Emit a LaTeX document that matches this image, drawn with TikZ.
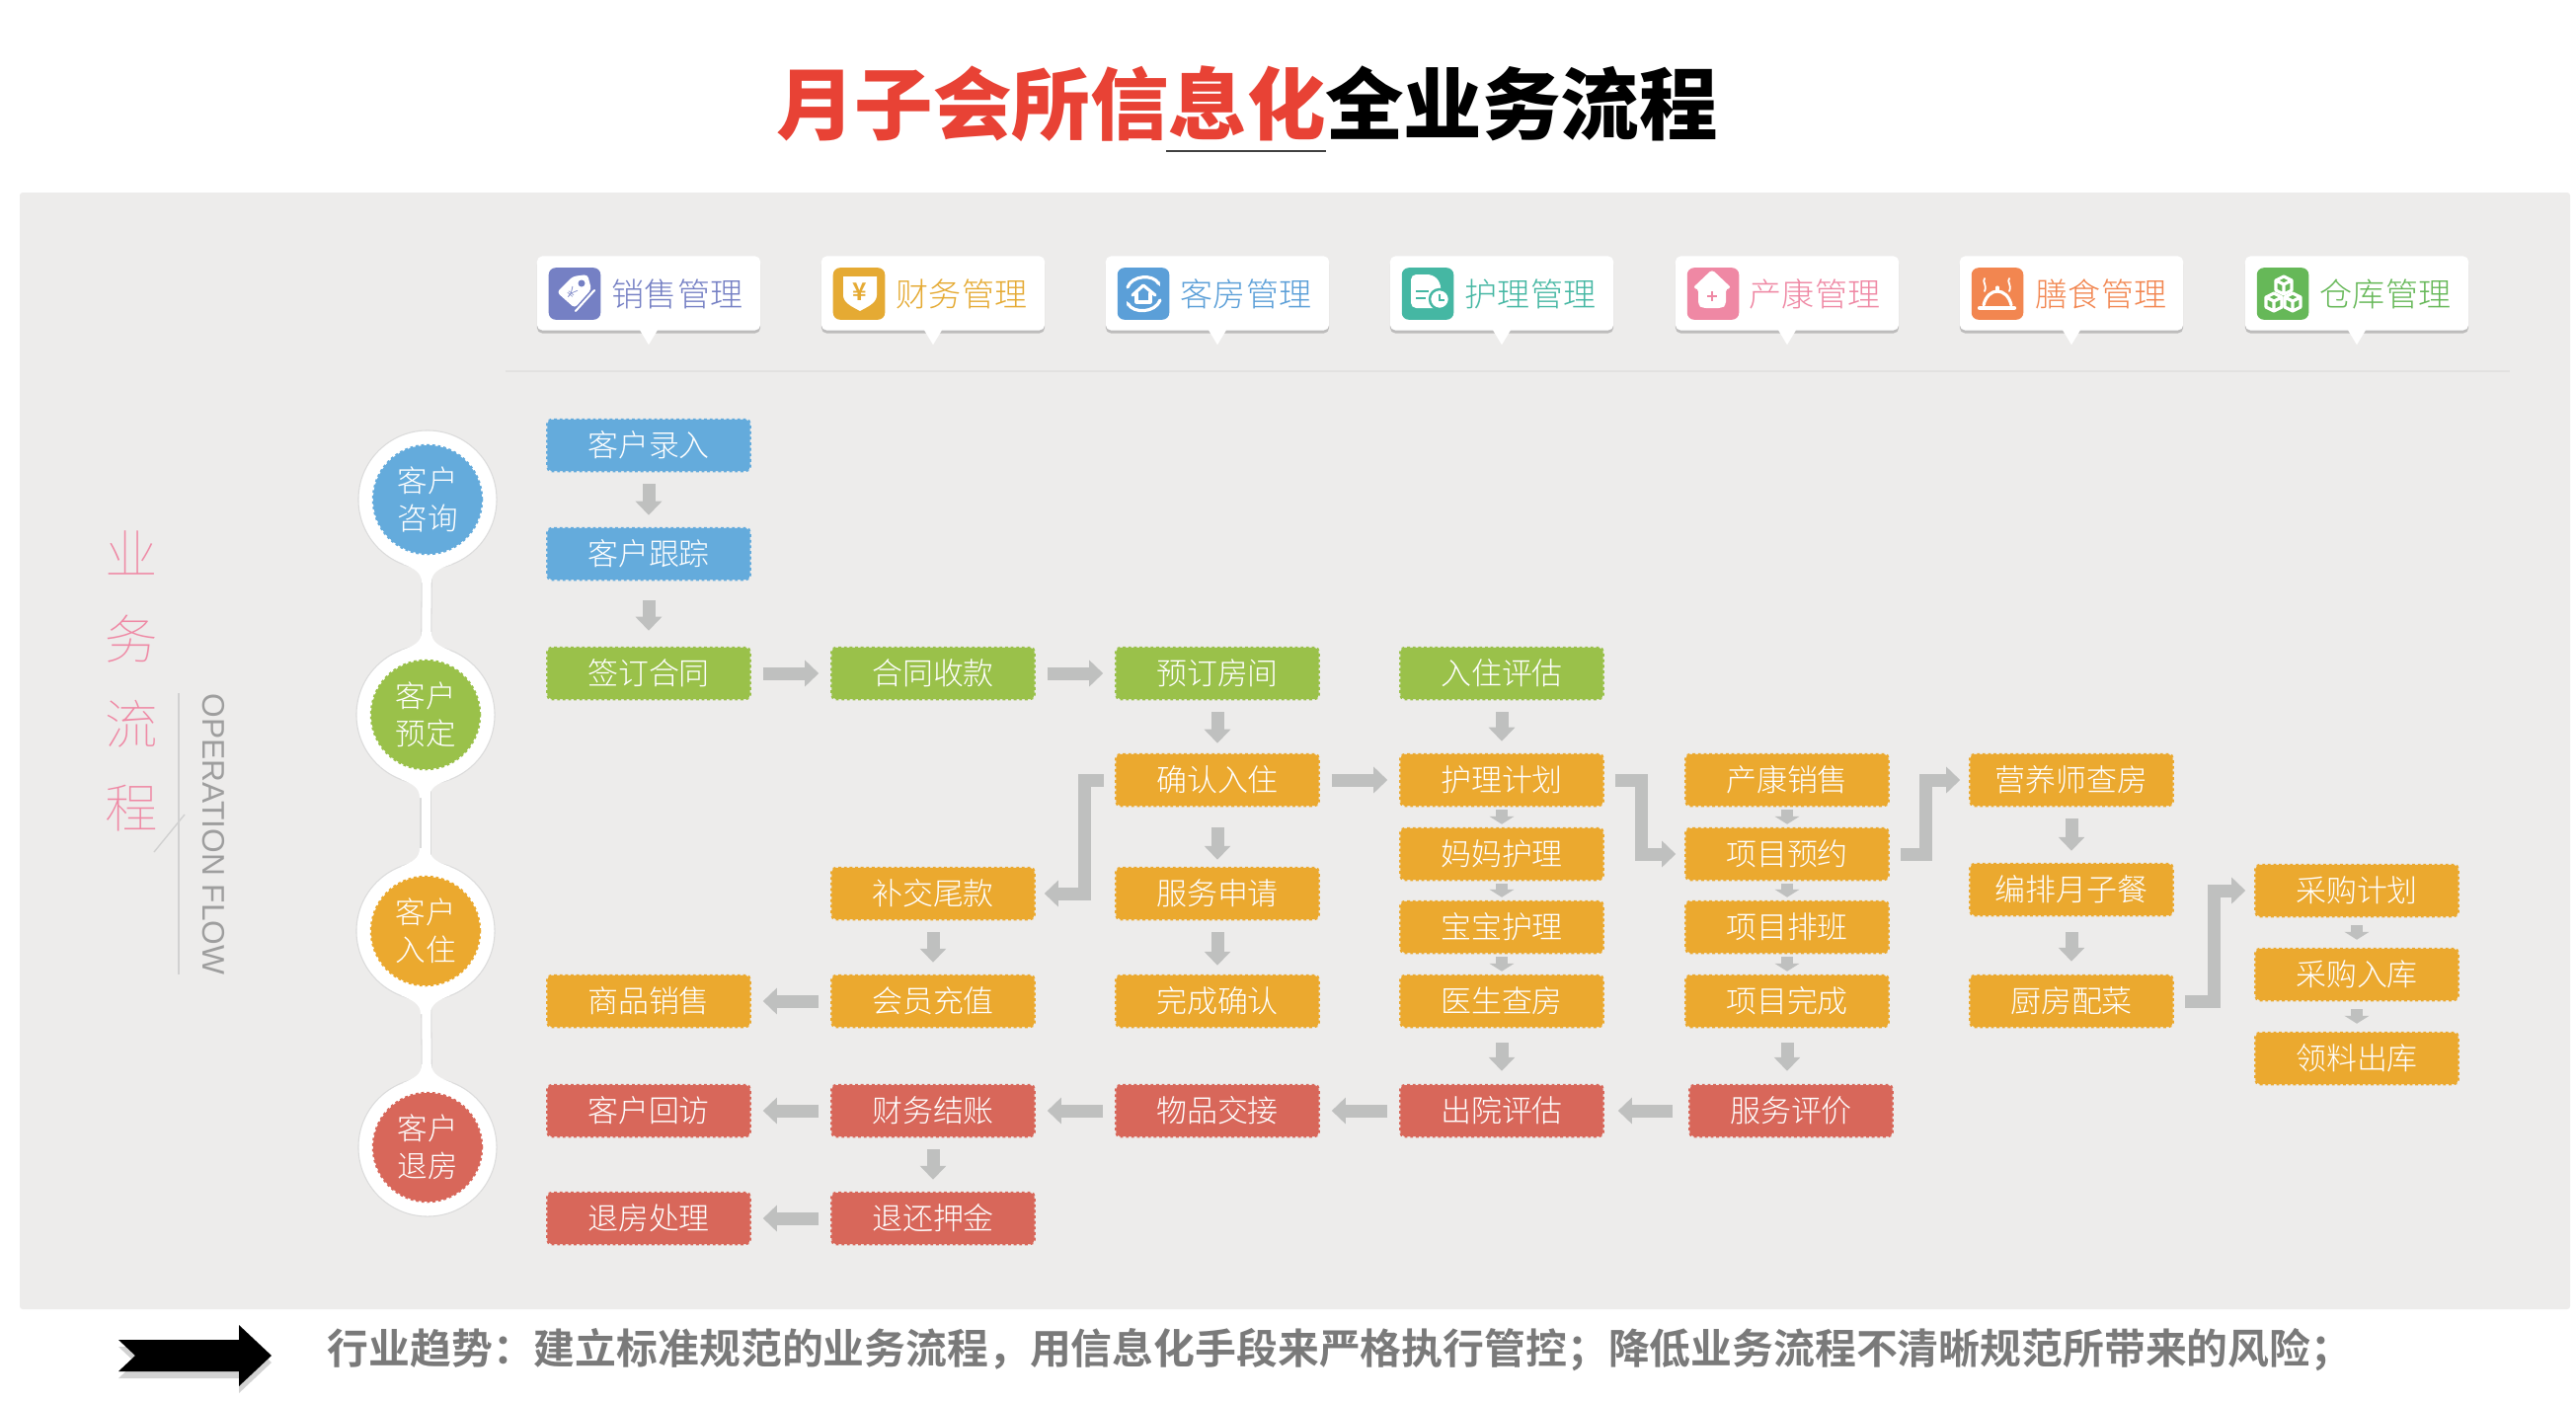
\documentclass[tikz,border=0pt]{standalone}
\usepackage{fontspec}
\usetikzlibrary{arrows.meta,shadows}
\setmainfont{Noto Sans CJK SC Light}
\newfontfamily\titlefont{Noto Sans CJK SC Black}
\newfontfamily\trendfont{Noto Sans CJK SC Bold}
\newfontfamily\thinfont{Noto Sans CJK SC Thin}
\newfontfamily\opfont{Liberation Sans}
\definecolor{panelgray}{HTML}{EDECEB}
\definecolor{rulegray}{HTML}{E2E1E0}
\definecolor{arrowgray}{HTML}{BFC0BF}
\definecolor{flowblue}{HTML}{64ABDC}
\definecolor{flowgreen}{HTML}{9AC14A}
\definecolor{floworange}{HTML}{EBA92F}
\definecolor{flowred}{HTML}{D8675A}
\definecolor{titlered}{HTML}{E84235}
\definecolor{headpurple}{HTML}{7580C4}
\definecolor{headgold}{HTML}{E5AA33}
\definecolor{headblue}{HTML}{5B9FD8}
\definecolor{headteal}{HTML}{45B7A3}
\definecolor{headpink}{HTML}{EF88A4}
\definecolor{headcoral}{HTML}{F28650}
\definecolor{headleaf}{HTML}{66B858}

\begin{document}
\begin{tikzpicture}[x=.01cm, y=-.01cm,
  flowbox/.style={draw=#1, fill=#1, text=white, line width=.7pt, dash pattern=on .8pt off .8pt, rounded corners=1.2pt,
    minimum width=2.05cm, minimum height=.52cm, inner sep=0, font=\fontsize{8.8}{10}\selectfont},
  ring/.style={circle, fill=white, draw=black!14, line width=.3pt, minimum size=1.4cm, inner sep=0},
  stage/.style={circle, draw=#1, fill=#1, text=white, line width=.7pt, dash pattern=on .8pt off .8pt, minimum size=1.1cm,
    inner sep=0, align=center, font=\fontsize{8.7}{10.8}\selectfont},
  neck/.style={draw=black!14, double=white, double distance=.09cm, line width=.3pt},
  headbox/.style={fill=white, rounded corners=1.5pt, minimum width=2.26cm, minimum height=.75cm, inner sep=0,
    drop shadow={shadow xshift=0pt, shadow yshift=-.03cm, opacity=.2, fill=black}},
  headicon/.style={fill=#1, rounded corners=2pt, minimum size=.525cm, inner sep=0},
  headtext/.style={text=#1, inner sep=0, font=\fontsize{9.4}{11}\selectfont},
  bigarrow/.style={draw=arrowgray, line width=.13cm, shorten <=.12cm, shorten >=.12cm, -{Triangle[length=.14cm,width=.26cm]}},
  smallarrow/.style={draw=arrowgray, line width=.12cm, shorten <=.03cm, shorten >=.03cm, -{Triangle[length=.08cm,width=.25cm]}},
  elbow/.style={draw=arrowgray, line width=.13cm, line join=miter, shorten <=.11cm, shorten >=.09cm, -{Triangle[length=.14cm,width=.26cm]}},
  iconline/.style={draw=white, line width=.9pt, line cap=round, line join=round}]

\useasboundingbox (0,0) rectangle (2609,1418);
\fill[white] (0,0) rectangle (2609,1418);
\fill[panelgray, rounded corners=.03cm] (20,195) rectangle (2603,1326);
\draw[rulegray, line width=.6pt] (512,376) -- (2542,376);

% title
\node[inner sep=0, font=\titlefont\fontsize{22.6}{26}\selectfont] (title) at (1263,105) {\textcolor{titlered}{月子会所信息化}全业务流程};
\draw[black!75, line width=.6pt] (1181,153) -- (1343,153);

% left caption
\node[text=headpink, inner sep=0, align=center, font=\thinfont\fontsize{15.2}{24.4}\selectfont] (caption) at (133,690) {业\\务\\流\\程};
\draw[black!18, line width=.4pt] (181,702) -- (181,987);
\draw[black!18, line width=.4pt] (187,825) -- (156,863);
\node[rotate=-90, text=black!38, inner sep=0, font=\opfont\fontsize{9}{10}\selectfont] (opflow) at (216,845) {OPERATION FLOW};

% header tabs
\node[headbox] (hsale) at (657,297) {};
\node[headbox] (hcash) at (945,297) {};
\node[headbox] (hroom) at (1233,297) {};
\node[headbox] (hcare) at (1521,297) {};
\node[headbox] (hheal) at (1810,297) {};
\node[headbox] (hfood) at (2098,297) {};
\node[headbox] (hstore) at (2387,297) {};
\fill[white] (hsale.south) ++(-9,-1) -- ++(9,15) -- ++(9,-15) -- cycle;
\fill[white] (hcash.south) ++(-9,-1) -- ++(9,15) -- ++(9,-15) -- cycle;
\fill[white] (hroom.south) ++(-9,-1) -- ++(9,15) -- ++(9,-15) -- cycle;
\fill[white] (hcare.south) ++(-9,-1) -- ++(9,15) -- ++(9,-15) -- cycle;
\fill[white] (hheal.south) ++(-9,-1) -- ++(9,15) -- ++(9,-15) -- cycle;
\fill[white] (hfood.south) ++(-9,-1) -- ++(9,15) -- ++(9,-15) -- cycle;
\fill[white] (hstore.south) ++(-9,-1) -- ++(9,15) -- ++(9,-15) -- cycle;
\node[headicon=headpurple] (isale) at (582,297.5) {};
\node[headicon=headgold] (icash) at (870,297.5) {};
\node[headicon=headblue] (iroom) at (1158,297.5) {};
\node[headicon=headteal] (icare) at (1446,297.5) {};
\node[headicon=headpink] (iheal) at (1735,297.5) {};
\node[headicon=headcoral] (ifood) at (2023,297.5) {};
\node[headicon=headleaf] (istore) at (2312,297.5) {};
\node[headtext=headpurple] at (686,298) {销售管理};
\node[headtext=headgold] at (974,298) {财务管理};
\node[headtext=headblue] at (1262,298) {客房管理};
\node[headtext=headteal] at (1550,298) {护理管理};
\node[headtext=headpink] at (1838,298) {产康管理};
\node[headtext=headcoral] at (2128,298) {膳食管理};
\node[headtext=headleaf] at (2416,298) {仓库管理};

% icon drawings
\begin{scope}[shift={(556,271)}]
  \draw[iconline, line width=.6pt] (27,44) -- (46,23);
  \fill[white, rounded corners=1pt] (8,25) -- (24,9) -- (39,7) -- (43,22) -- (26,41) -- cycle;
  \fill[headpurple] (33,16) circle (.035cm);
  \node[rotate=-40, text=headpurple, inner sep=0, font=\fontsize{4.5}{5}\selectfont] at (23,26) {¥};
\end{scope}
\begin{scope}[shift={(844,271)}]
  \fill[white] (10,9) -- (44,9) -- (44,28) .. controls (44,36) and (34,40) .. (27,44) .. controls (20,40) and (10,36) .. (10,28) -- cycle;
  \node[text=headgold, inner sep=0, font=\trendfont\fontsize{7}{8}\selectfont] at (27,25) {¥};
\end{scope}
\begin{scope}[shift={(1132,271)}]
  \draw[iconline, -{Stealth[length=.05cm]}] (10,20) .. controls (14,8) and (36,6) .. (43,19);
  \draw[iconline, -{Stealth[length=.05cm]}] (43,33) .. controls (38,46) and (16,47) .. (9,34);
  \draw[iconline] (15,28) -- (26,18) -- (38,28);
  \draw[iconline] (19,26) -- (19,35) -- (33,35) -- (33,26);
\end{scope}
\begin{scope}[shift={(1420,271)}]
  \fill[white, rounded corners=1.5pt] (9,7) -- (31,7) -- (39,15) -- (39,41) -- (9,41) -- cycle;
  \draw[headteal, line width=.8pt] (14,24) -- (27,24);
  \draw[headteal, line width=.8pt] (14,31) -- (24,31);
  \draw[headteal, fill=white, line width=.7pt] (38,32) circle (.1cm);
  \draw[headteal, line width=.6pt] (38,27) -- (38,33) -- (43,33);
\end{scope}
\begin{scope}[shift={(1709,271)}]
  \fill[white, rounded corners=1pt] (5,21) -- (25,2) -- (45,21) -- (39,21) -- (39,38) -- (35,41) -- (15,41) -- (11,38) -- (11,21) -- cycle;
  \draw[headpink, line width=.5pt] (20,29) -- (30,29);
  \draw[headpink, line width=.5pt] (25,24) -- (25,34);
\end{scope}
\begin{scope}[shift={(1997,271)}]
  \draw[iconline, line width=1.2pt] (8,41) -- (43,41);
  \draw[iconline] (12,38) .. controls (14,29) and (20,24) .. (26,24) .. controls (32,24) and (38,29) .. (40,38);
  \draw[iconline] (26,24) -- (26,20);
  \draw[iconline, line width=.5pt] (13,11) .. controls (10,15) and (16,17) .. (13,24);
  \draw[iconline, line width=.5pt] (38,11) .. controls (35,15) and (41,17) .. (38,24);
\end{scope}
\begin{scope}[shift={(2286,271), iconline/.append style={line width=.55pt}}]
  \draw[iconline] (27,9) -- (35,13) -- (35,23) -- (27,27) -- (19,23) -- (19,13) -- cycle (19,13) -- (27,17) -- (35,13) (27,17) -- (27,27);
  \draw[iconline] (17,26) -- (25,30) -- (25,40) -- (17,44) -- (9,40) -- (9,30) -- cycle (9,30) -- (17,34) -- (25,30) (17,34) -- (17,44);
  \draw[iconline] (36,26) -- (44,30) -- (44,40) -- (36,44) -- (28,40) -- (28,30) -- cycle (28,30) -- (36,34) -- (44,30) (36,34) -- (36,44);
\end{scope}

% stages on the left
\node[ring] (zixun) at (433,506) {};
\node[ring] (yuding) at (431,724) {};
\node[ring] (ruzhu) at (431,943) {};
\node[ring] (tuifang) at (433,1162) {};
\draw[neck] (zixun) -- (yuding);
\draw[neck] (yuding) -- (ruzhu);
\draw[neck] (ruzhu) -- (tuifang);
\fill[white] (408,571) .. controls (420,576) and (427,580) .. (427,590) -- (437,590) .. controls (437,580) and (444,576) .. (458,571) -- cycle;
\fill[white] (406,659) .. controls (420,654) and (427,650) .. (427,640) -- (437,640) .. controls (437,650) and (444,654) .. (456,659) -- cycle;
\fill[white] (406,789) .. controls (418,794) and (425,798) .. (425,808) -- (435,808) .. controls (435,798) and (442,794) .. (456,789) -- cycle;
\fill[white] (406,878) .. controls (418,873) and (425,869) .. (425,859) -- (435,859) .. controls (435,869) and (442,873) .. (456,878) -- cycle;
\fill[white] (406,1008) .. controls (418,1013) and (426,1017) .. (426,1027) -- (436,1027) .. controls (436,1017) and (444,1013) .. (456,1008) -- cycle;
\fill[white] (408,1097) .. controls (420,1092) and (427,1088) .. (427,1078) -- (437,1078) .. controls (437,1088) and (446,1092) .. (458,1097) -- cycle;
\node[stage=flowblue] at (zixun) {客户\\咨询};
\node[stage=flowgreen] at (yuding) {客户\\预定};
\node[stage=floworange] at (ruzhu) {客户\\入住};
\node[stage=flowred] at (tuifang) {客户\\退房};

% flow boxes
\node[flowbox=flowblue] (luru) at (657,451) {客户录入};
\node[flowbox=flowblue] (genzong) at (657,561) {客户跟踪};
\node[flowbox=flowgreen] (qianding) at (657,682) {签订合同};
\node[flowbox=flowgreen] (shoukuan) at (945,682) {合同收款};
\node[flowbox=flowgreen] (yuroom) at (1233,682) {预订房间};
\node[flowbox=flowgreen] (pinggu) at (1521,682) {入住评估};
\node[flowbox=floworange] (queren) at (1233,790) {确认入住};
\node[flowbox=floworange] (fuwu) at (1233,905) {服务申请};
\node[flowbox=floworange] (wancheng) at (1233,1014) {完成确认};
\node[flowbox=floworange] (bujiao) at (945,905) {补交尾款};
\node[flowbox=floworange] (chongzhi) at (945,1014) {会员充值};
\node[flowbox=floworange] (shangpin) at (657,1014) {商品销售};
\node[flowbox=floworange] (jihua) at (1521,790) {护理计划};
\node[flowbox=floworange] (mama) at (1521,865) {妈妈护理};
\node[flowbox=floworange] (baobao) at (1521,939) {宝宝护理};
\node[flowbox=floworange] (yisheng) at (1521,1014) {医生查房};
\node[flowbox=floworange] (xiaoshou) at (1810,790) {产康销售};
\node[flowbox=floworange] (yuyue) at (1810,865) {项目预约};
\node[flowbox=floworange] (paiban) at (1810,939) {项目排班};
\node[flowbox=floworange] (xiangmu) at (1810,1014) {项目完成};
\node[flowbox=floworange] (yingyang) at (2098,790) {营养师查房};
\node[flowbox=floworange] (bianpai) at (2098,901) {编排月子餐};
\node[flowbox=floworange] (chufang) at (2098,1014) {厨房配菜};
\node[flowbox=floworange] (caigou) at (2387,902) {采购计划};
\node[flowbox=floworange] (ruku) at (2387,987) {采购入库};
\node[flowbox=floworange] (lingliao) at (2387,1072) {领料出库};
\node[flowbox=flowred] (huifang) at (657,1125) {客户回访};
\node[flowbox=flowred] (jiezhang) at (945,1125) {财务结账};
\node[flowbox=flowred] (jiaojie) at (1233,1125) {物品交接};
\node[flowbox=flowred] (chuyuan) at (1521,1125) {出院评估};
\node[flowbox=flowred] (pingjia) at (1814,1125) {服务评价};
\node[flowbox=flowred] (tuihuan) at (945,1234) {退还押金};
\node[flowbox=flowred] (chuli) at (657,1234) {退房处理};

% arrows
\draw[bigarrow] (luru) -- (genzong);
\draw[bigarrow, shorten <=.2cm, shorten >=.16cm] (genzong) -- (qianding);
\draw[bigarrow] (qianding) -- (shoukuan);
\draw[bigarrow] (shoukuan) -- (yuroom);
\draw[bigarrow, shorten >=.1cm] (yuroom) -- (queren);
\draw[bigarrow] (pinggu) -- (jihua);
\draw[bigarrow, shorten <=.21cm, shorten >=.07cm] (queren) -- (fuwu);
\draw[bigarrow, shorten >=.09cm] (fuwu) -- (wancheng);
\draw[bigarrow] (queren) -- (jihua);
\draw[bigarrow] (bujiao) -- (chongzhi);
\draw[bigarrow] (chongzhi) -- (shangpin);
\draw[smallarrow] (jihua) -- (mama);
\draw[smallarrow] (mama) -- (baobao);
\draw[smallarrow] (baobao) -- (yisheng);
\draw[bigarrow, shorten <=.15cm, shorten >=.13cm] (yisheng) -- (chuyuan);
\draw[smallarrow] (xiaoshou) -- (yuyue);
\draw[smallarrow] (yuyue) -- (paiban);
\draw[smallarrow] (paiban) -- (xiangmu);
\draw[bigarrow, shorten <=.15cm, shorten >=.13cm] (xiangmu.south) -- (xiangmu.south |- pingjia.north);
\draw[bigarrow] (yingyang) -- (bianpai);
\draw[bigarrow, shorten <=.16cm, shorten >=.13cm] (bianpai) -- (chufang);
\draw[smallarrow, shorten <=.08cm, shorten >=.08cm] (caigou) -- (ruku);
\draw[smallarrow, shorten <=.08cm, shorten >=.08cm] (ruku) -- (lingliao);
\draw[bigarrow, shorten <=.16cm, shorten >=.14cm] (pingjia) -- (chuyuan);
\draw[bigarrow] (chuyuan) -- (jiaojie);
\draw[bigarrow] (jiaojie) -- (jiezhang);
\draw[bigarrow] (jiezhang) -- (huifang);
\draw[bigarrow] (jiezhang) -- (tuihuan);
\draw[bigarrow] (tuihuan) -- (chuli);
\draw[elbow] (queren.west) -- (1098,790) -- (1098,905) -- (bujiao.east);
\draw[elbow] (jihua.east) -- (1662,790) -- (1662,865) -- (yuyue.west);
\draw[elbow] (yuyue.east) -- (1950,865) -- (1950,790) -- (yingyang.west);
\draw[elbow] (chufang.east) -- (2242,1014) -- (2242,902) -- (caigou.west);

% bottom line
\fill[black, drop shadow={shadow xshift=0pt, shadow yshift=-.07cm, opacity=.35}] (120,1357) -- (242,1357) -- (242,1342) -- (275,1373) -- (242,1404) -- (242,1389) -- (120,1389) -- (137,1373) -- cycle;
\node[text=black!52, inner sep=0, font=\trendfont\fontsize{11.9}{13}\selectfont] (trend) at (1357,1367) {行业趋势：建立标准规范的业务流程，用信息化手段来严格执行管控；降低业务流程不清晰规范所带来的风险；};
\end{tikzpicture}
\end{document}
